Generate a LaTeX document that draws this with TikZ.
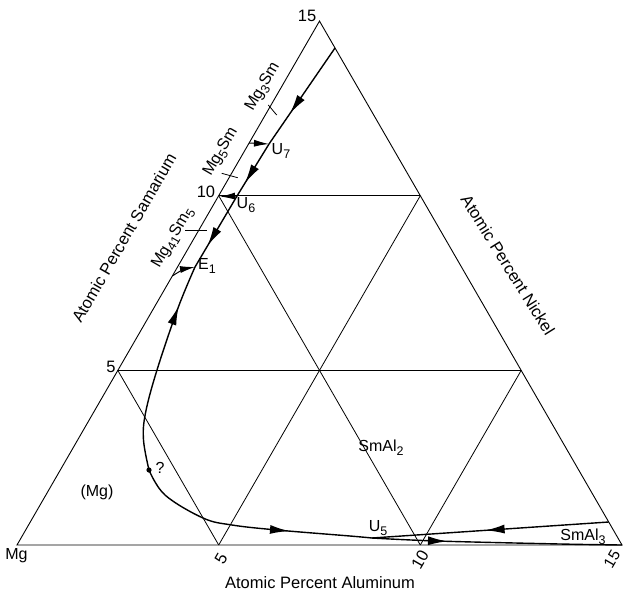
\documentclass[tikz,border=0pt]{standalone}
\usepackage{fontspec}
\setmainfont{Liberation Sans}
\usetikzlibrary{arrows.meta,decorations.markings}
\newcommand{\sbs}[1]{\raisebox{-0.45ex}{\fontsize{12.5}{13}\selectfont #1}}
\begin{document}
\begin{tikzpicture}[x=1pt,y=-1pt,
  edge/.style={line width=0.9pt},
  gridline/.style={line width=0.8pt},
  curve/.style={line width=1.4pt},
  thinarrow/.style={line width=1pt,-{Latex[length=15pt,width=7pt]}},
  midarrow/.style={postaction={decorate},decoration={markings,mark=at position #1 with {\arrow{Latex[length=19pt,width=9pt]}}}},
  lab/.style={font=\fontsize{16}{19}\selectfont, inner sep=0pt},
  num/.style={font=\fontsize{16.5}{19}\selectfont, inner sep=0pt},
  axis/.style={font=\fontsize{16.5}{20}\selectfont, inner sep=0pt}]
\useasboundingbox (0,0) rectangle (624,598);
% vertices and grid points
\coordinate (L) at (17,545);
\coordinate (R) at (622,545);
\coordinate (T) at (319.5,21.1);
\coordinate (A5) at (218.7,545);
\coordinate (A10) at (420.3,545);
\coordinate (S5) at (117.8,370.4);
\coordinate (S10) at (218.7,195.7);
\coordinate (R5) at (521.2,370.4);
\coordinate (R10) at (420.3,195.7);
% triangle
\draw[edge] (L) -- (R) -- (T) -- cycle;
% grid
\draw[gridline] (S5) -- (R5);
\draw[gridline] (S10) -- (R10);
\draw[gridline] (S5) -- (A5);
\draw[gridline] (S10) -- (A10);
\draw[gridline] (A5) -- (R10);
\draw[gridline] (A10) -- (R5);
% tick marks on left edge
\draw[gridline] (268.3,105) -- (276.7,115);
\draw[gridline] (221.7,173.3) -- (237.7,177.7);
\draw[gridline] (185,230) -- (206.7,230);
% invariant points
\coordinate (P0) at (335,48);
\coordinate (U7) at (269,144);
\coordinate (U6) at (237,196);
\coordinate (E1) at (195,267);
\coordinate (Q) at (149,470);
\coordinate (U5) at (372,538);
\coordinate (Re) at (608.7,522);
\coordinate (U7e) at (249.1,143);
\coordinate (U6e) at (220,196.5);
\coordinate (E1e) at (172.3,276);
% main curves
\draw[curve,midarrow=0.68] (P0) -- (U7);
\draw[curve,midarrow=0.75] (U7) -- (U6);
\draw[curve,midarrow=0.7] (U6) -- (E1);
\draw[curve,midarrow=0.8] plot[smooth,tension=0.6] coordinates {(Q) (143.5,440) (145.5,413) (157,370) (178,308) (E1)};
\draw[curve,midarrow=0.66] plot[smooth,tension=0.6] coordinates {(Q) (165,495) (203,518) (232,525) (277,530) (350,536) (U5)};
\draw[curve,midarrow=0.52] (Re) -- (U5);
\draw[curve,midarrow=0.3] plot[smooth,tension=0.6] coordinates {(U5) (437,541) (560,544) (R)};
% small arrows
\draw[thinarrow] (U7e) -- (U7);
\draw[thinarrow] (U6) -- (U6e);
\draw[thinarrow] (E1e) to[bend left=12] (E1);
\fill (Q) circle (2.6pt);
% numbers
\node[num] (n15) at (307,16) {15};
\node[num] (n10) at (206,192) {10};
\node[num] (n5) at (111,367) {5};
\node[lab] (nMg) at (16.5,556) {Mg};
\node[num,rotate=60] (b5) at (221,559) {5};
\node[num,rotate=60] (b10) at (420,560) {10};
\node[num,rotate=60,font=\fontsize{15.5}{18}\selectfont] (b15) at (612,559) {15};
% axis titles
\node[axis] (axA) at (320,583) {Atomic Percent Aluminum};
\node[axis,rotate=60] (axS) at (124,238) {Atomic Percent Samarium};
\node[axis,rotate=-58] (axN) at (508,265) {Atomic Percent Nickel};
% phase labels
\node[lab,rotate=60] (m3) at (263,87) {Mg\sbs{3}Sm};
\node[lab,rotate=60] (m5) at (221,152) {Mg\sbs{5}Sm};
\node[lab,rotate=60] (m41) at (173,238) {Mg\sbs{41}Sm\sbs{5}};
\node[lab] (lU7) at (281,151) {U\sbs{7}};
\node[lab] (lU6) at (246,205) {U\sbs{6}};
\node[lab] (lE1) at (207,266) {E\sbs{1}};
\node[lab] (lU5) at (378,528) {U\sbs{5}};
\node[lab] (lq) at (160,468) {?};
\node[lab] (lMg) at (97,492) {(Mg)};
\node[lab] (lSmAl2) at (381,448) {SmAl\sbs{2}};
\node[lab] (lSmAl3) at (583,537) {SmAl\sbs{3}};
\end{tikzpicture}
\end{document}
